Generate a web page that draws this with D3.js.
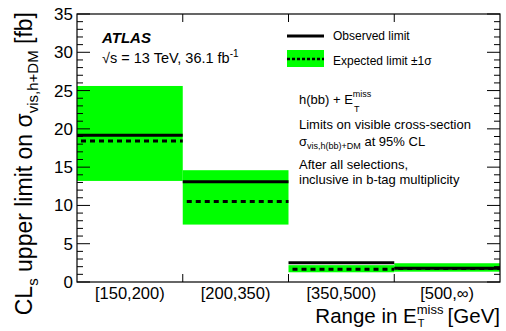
<!DOCTYPE html>
<html>
<head>
<meta charset="utf-8">
<script src="https://cdn.jsdelivr.net/npm/d3@7"></script>
<style>
  body { margin: 0; background: #fff; }
  svg { display: block; font-family: "Liberation Sans", Arial, sans-serif; }
</style>
</head>
<body>
<div class="container"></div>
<script>
"use strict";

var width = 506;
var height = 331;

// Bins in E_T^miss and the limits (fb)
var bins = ["[150,200)", "[200,350)", "[350,500)", "[500,\u221E)"];
var observed = [19.15, 13.1, 2.5, 1.8];
var expected = [18.4, 10.5, 1.65, 1.75];
var expectedLow = [13.2, 7.5, 1.27, 1.35];
var expectedHigh = [25.6, 14.6, 2.2, 2.45];
var yTicks = [0, 5, 10, 15, 20, 25, 30, 35];

var margin = {top: 14, right: 6, bottom: 49, left: 77};
var x0 = margin.left, x1 = width - margin.right;
var y0 = height - margin.bottom, y1 = margin.top;

var x = d3.scaleBand().domain(bins).range([x0, x1]).padding(0);
var y = d3.scaleLinear().domain([0, 35]).range([y0, y1]);

var svg = d3.select(".container").append("svg")
    .attr("width", width)
    .attr("height", height);

// Expected +-1 sigma bands
svg.append("g").selectAll("rect")
    .data(bins)
    .enter().append("rect")
    .attr("x", function(d) { return x(d); })
    .attr("width", x.bandwidth())
    .attr("y", function(d, i) { return y(expectedHigh[i]); })
    .attr("height", function(d, i) { return y(expectedLow[i]) - y(expectedHigh[i]); })
    .attr("fill", "#00ff00");

// Observed limit
svg.append("g").selectAll("line")
    .data(bins)
    .enter().append("line")
    .attr("x1", function(d) { return x(d); })
    .attr("x2", function(d) { return x(d) + x.bandwidth(); })
    .attr("y1", function(d, i) { return y(observed[i]); })
    .attr("y2", function(d, i) { return y(observed[i]); })
    .attr("stroke", "#000")
    .attr("stroke-width", 3);

// Expected limit (dotted)
svg.append("g").selectAll("line")
    .data(bins)
    .enter().append("line")
    .attr("x1", function(d) { return x(d) + 4; })
    .attr("x2", function(d) { return x(d) + x.bandwidth(); })
    .attr("y1", function(d, i) { return y(expected[i]); })
    .attr("y2", function(d, i) { return y(expected[i]); })
    .attr("stroke", "#000")
    .attr("stroke-width", 3)
    .attr("stroke-dasharray", "5,4");

// Frame
svg.append("rect")
    .attr("x", x0).attr("y", y1)
    .attr("width", x1 - x0).attr("height", y0 - y1)
    .attr("fill", "none")
    .attr("stroke", "#000")
    .attr("stroke-width", 1.2);

// Y ticks, left and right, major every 5 and minor every 1
var minor = d3.range(0, 36, 1);
var ticks = svg.append("g").attr("stroke", "#000").attr("stroke-width", 1);
minor.forEach(function(v) {
    var len = v % 5 === 0 ? 13 : 6;
    ticks.append("line").attr("x1", x0).attr("x2", x0 + len)
        .attr("y1", y(v)).attr("y2", y(v));
    ticks.append("line").attr("x1", x1).attr("x2", x1 - len)
        .attr("y1", y(v)).attr("y2", y(v));
});

// X ticks at bin edges, top and bottom
bins.slice(1).forEach(function(b) {
    ticks.append("line").attr("x1", x(b)).attr("x2", x(b))
        .attr("y1", y0).attr("y2", y0 - 8);
    ticks.append("line").attr("x1", x(b)).attr("x2", x(b))
        .attr("y1", y1).attr("y2", y1 + 8);
});

// Y tick labels
svg.append("g").selectAll("text")
    .data(yTicks)
    .enter().append("text")
    .attr("x", x0 - 4)
    .attr("y", function(d) { return y(d) + 6; })
    .attr("text-anchor", "end")
    .attr("font-size", 17)
    .text(function(d) { return d; });

// X bin labels
svg.append("g").selectAll("text")
    .data(bins)
    .enter().append("text")
    .attr("x", function(d) { return x(d) + x.bandwidth() / 2; })
    .attr("y", 298.5)
    .attr("text-anchor", "middle")
    .attr("font-size", 16.5)
    .text(function(d) { return d; });

// X title, built as one text with sub/superscript under each other
var xt = svg.append("text")
    .attr("y", 323)
    .attr("font-size", 20.5);
var xa = xt.append("tspan").attr("x", 0).text("Range in E");
var xm = xt.append("tspan").attr("font-size", 13).attr("dy", -9).text("miss");
var xT = xt.append("tspan").attr("font-size", 11).text("T");
var xg = xt.append("tspan").attr("font-size", 20.5).text("\u2009[GeV]");
var aw = xa.node().getComputedTextLength();
var mw = xm.node().getComputedTextLength();
xT.attr("x", aw + 1).attr("dy", 13);
xg.attr("x", aw + mw).attr("dy", -4);
var gw = xg.node().getComputedTextLength();
xt.attr("transform", "translate(" + (x1 - aw - mw - gw) + ",0)");

// Y title (rotated)
var yt = svg.append("text")
    .attr("transform", "translate(32,12) rotate(-90)")
    .attr("text-anchor", "end")
    .attr("font-size", 23);
yt.append("tspan").text("CL");
yt.append("tspan").attr("font-size", 15).attr("dy", 6).text("s");
yt.append("tspan").attr("font-size", 23).attr("dy", -6).text(" upper limit on \u03C3");
yt.append("tspan").attr("font-size", 15).attr("dy", 6).text("vis,h+DM");
yt.append("tspan").attr("font-size", 23).attr("dy", -6).text(" [fb]");

// ATLAS label
svg.append("text")
    .attr("x", 102).attr("y", 43)
    .attr("font-size", 15)
    .attr("font-weight", "bold")
    .attr("font-style", "italic")
    .text("ATLAS");
var lumi = svg.append("text")
    .attr("x", 102).attr("y", 63)
    .attr("font-size", 14.5);
lumi.append("tspan").text("\u221As = 13 TeV, 36.1 fb");
lumi.append("tspan").attr("font-size", 10).attr("dy", -6).text("-1");

// Legend
svg.append("line")
    .attr("x1", 287).attr("x2", 324)
    .attr("y1", 36).attr("y2", 36)
    .attr("stroke", "#000").attr("stroke-width", 3);
svg.append("text")
    .attr("x", 333).attr("y", 40)
    .attr("font-size", 12)
    .text("Observed limit");
svg.append("rect")
    .attr("x", 287).attr("y", 50)
    .attr("width", 37).attr("height", 17)
    .attr("fill", "#00ff00");
svg.append("line")
    .attr("x1", 287).attr("x2", 324)
    .attr("y1", 59).attr("y2", 59)
    .attr("stroke", "#000").attr("stroke-width", 2.5)
    .attr("stroke-dasharray", "3,2");
svg.append("text")
    .attr("x", 333).attr("y", 65)
    .attr("font-size", 12)
    .text("Expected limit \u00B11\u03C3");

// Description
var tx = 299;
var t1 = svg.append("text").attr("x", tx).attr("y", 104).attr("font-size", 13);
t1.append("tspan").text("h(bb) + E");
t1.append("tspan").attr("font-size", 9).attr("dy", -7).text("miss");
svg.append("text").attr("x", 354).attr("y", 112).attr("font-size", 9).text("T");
svg.append("text").attr("x", tx).attr("y", 129).attr("font-size", 13)
    .text("Limits on visible cross-section");
var t3 = svg.append("text").attr("x", tx).attr("y", 146).attr("font-size", 13);
t3.append("tspan").text("\u03C3");
t3.append("tspan").attr("font-size", 9).attr("dy", 3).text("vis,h(bb)+DM");
t3.append("tspan").attr("font-size", 13).attr("dy", -3).text(" at 95% CL");
svg.append("text").attr("x", tx).attr("y", 169).attr("font-size", 13)
    .text("After all selections,");
svg.append("text").attr("x", tx).attr("y", 184).attr("font-size", 13)
    .text("inclusive in b-tag multiplicity");
</script>
</body>
</html>
